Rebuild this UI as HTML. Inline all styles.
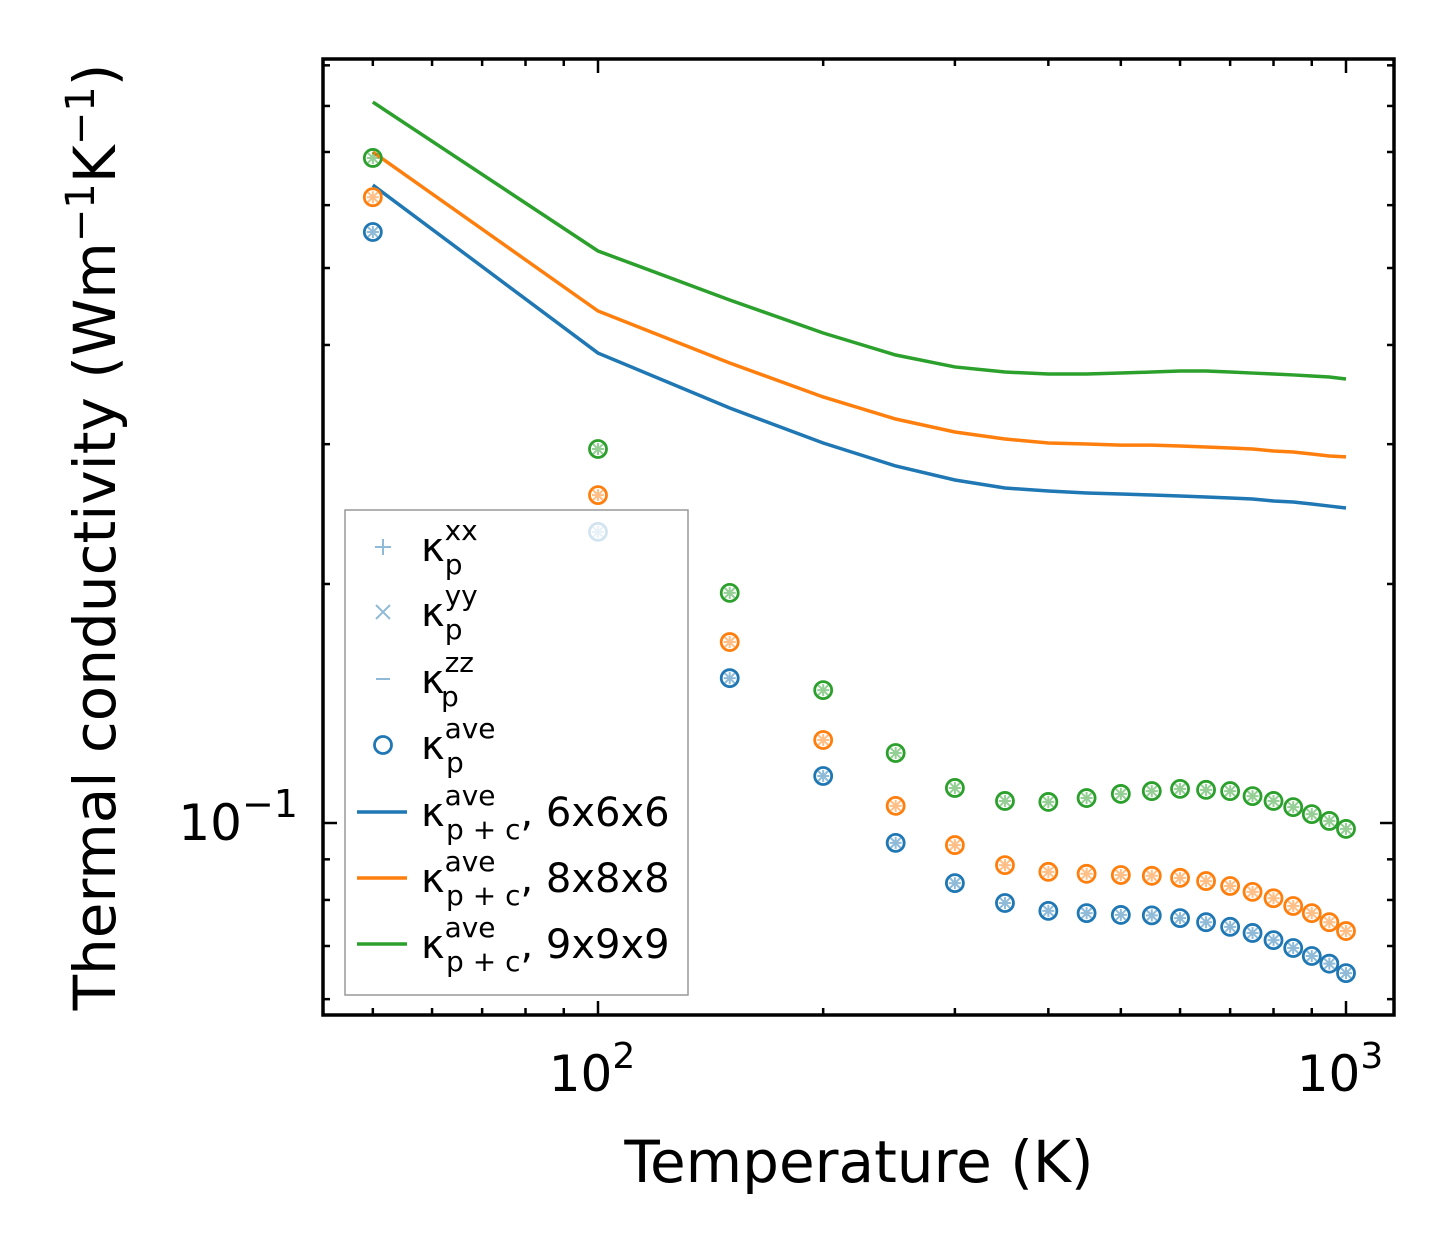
<!DOCTYPE html>
<html><head><meta charset="utf-8"><style>
html,body{margin:0;padding:0;background:#fff;}
svg text{font-family:"DejaVu Sans","Liberation Sans",sans-serif;}
</style></head><body>
<svg id="chart" width="1454" height="1254" viewBox="0 0 1454 1254" xmlns="http://www.w3.org/2000/svg">
<rect width="1454" height="1254" fill="#fff"/>
<g id="marks"></g>
<g id="axes"></g>
<text x="859" y="1182" font-size="58" text-anchor="middle">Temperature (K)</text>
<text transform="translate(115,537) rotate(-90)" font-size="58" text-anchor="middle">Thermal conductivity (Wm<tspan dy="-21" font-size="40">−1</tspan><tspan dy="21">K</tspan><tspan dy="-21" font-size="40">−1</tspan><tspan dy="21">)</tspan></text>
<g id="legend">
<rect x="345" y="510" width="343" height="485" fill="#fff" fill-opacity="0.8" stroke="#999" stroke-width="1.5"/>
</g>
</svg>
<script>
const temps=[50,100,150,200,250,300,350,400,450,500,550,600,650,700,750,800,850,900,950,1000];
const pBlue=[0.555,0.2326,0.1522,0.1146,0.0944,0.0840,0.0793,0.0775,0.0770,0.0766,0.0765,0.0759,0.0750,0.0740,0.0727,0.0712,0.0696,0.0680,0.0665,0.0647];
const pOrange=[0.614,0.2588,0.169,0.1272,0.1051,0.0938,0.0885,0.0868,0.0863,0.0860,0.0858,0.0853,0.0845,0.0833,0.0819,0.0804,0.0786,0.0770,0.0750,0.0731];
const pGreen=[0.688,0.2958,0.1949,0.1470,0.1225,0.1107,0.1066,0.1063,0.1075,0.1088,0.1097,0.1104,0.1101,0.1097,0.1081,0.1066,0.1047,0.1026,0.1006,0.0983];
const lBlue=[0.636,0.3907,0.3332,0.3010,0.2816,0.2704,0.2642,0.2619,0.2604,0.2596,0.2589,0.2581,0.2574,0.2566,0.2559,0.2544,0.2537,0.2522,0.2507,0.2493];
const lOrange=[0.700,0.4414,0.3796,0.3440,0.3227,0.3108,0.3045,0.3010,0.3001,0.2992,0.2992,0.2984,0.2975,0.2967,0.2958,0.2941,0.2933,0.2916,0.2899,0.2891];
const lGreen=[0.809,0.5253,0.4557,0.4141,0.3885,0.3753,0.3698,0.3677,0.3677,0.3687,0.3698,0.3709,0.3709,0.3698,0.3687,0.3677,0.3667,0.3656,0.3645,0.3624];
const xTickVals=[100,1000];
const xTickLabels=["10","10"];
const xTickExps=["2","3"];
const yTickVals=[0.1];

const L=323,R=1394,T=59,B=1015;
const X=v=>598+748*(Math.log10(v)-2);
const Y=v=>823-794*(Math.log10(v)+1);
const NS="http://www.w3.org/2000/svg";
function mk(tag,attrs,parent){const e=document.createElementNS(NS,tag);for(const k in attrs)e.setAttribute(k,attrs[k]);parent.appendChild(e);return e;}
const marks=document.getElementById('marks'),axes=document.getElementById('axes'),leg=document.getElementById('legend');
const C={b:'#1f77b4',o:'#ff7f0e',g:'#2ca02c'};
const series=[[lBlue,pBlue,C.b,'blue'],[lOrange,pOrange,C.o,'orange'],[lGreen,pGreen,C.g,'green']];
series.forEach(([ln,pts,col,nm])=>{
  const p=mk('polyline',{points:temps.map((t,i)=>X(t)+','+Y(ln[i])).join(' '),fill:'none',stroke:col,'stroke-width':3.5},marks);
  
  
});
series.forEach(([ln,pts,col,nm])=>{
  temps.forEach((t,i)=>{
    const g=mk('g',{},marks);
    
    
    const cx=X(t),cy=Y(pts[i]);
    mk('path',{d:`M${cx-6},${cy}h12M${cx},${cy-6}v12M${cx-5},${cy-5}l10,10M${cx-5},${cy+5}l10,-10`,stroke:col,'stroke-opacity':0.5,'stroke-width':2},g);
    mk('circle',{cx,cy,r:8.5,fill:'none',stroke:col,'stroke-width':2.8},g);
  });
});
const fr=mk('rect',{x:L,y:T,width:R-L,height:B-T,fill:'none',stroke:'#000','stroke-width':3.5},axes);


for(let d=1;d<=3;d++)for(let m=1;m<10;m++){
  const v=m*Math.pow(10,d);const x=X(v);if(x<L||x>R)continue;
  const len=m===1?14:7;
  mk('line',{x1:x,y1:B,x2:x,y2:B-len,stroke:'#000','stroke-width':2.5},axes);
  mk('line',{x1:x,y1:T,x2:x,y2:T+len,stroke:'#000','stroke-width':2.5},axes);
}
xTickVals.forEach((v,i)=>{
  const t=mk('text',{x:X(v)-6,y:1091,'font-size':50,'text-anchor':'middle'},axes);
  
  
  t.innerHTML=xTickLabels[i]+'<tspan dy="-23" font-size="36">'+xTickExps[i]+'</tspan>';
});
for(let d=-2;d<=0;d++)for(let m=1;m<10;m++){
  const v=m*Math.pow(10,d);const y=Y(v);if(y<T||y>B)continue;
  const len=m===1?14:7;
  mk('line',{x1:L,y1:y,x2:L+len,y2:y,stroke:'#000','stroke-width':2.5},axes);
  mk('line',{x1:R,y1:y,x2:R-len,y2:y,stroke:'#000','stroke-width':2.5},axes);
}
yTickVals.forEach(v=>{
  const t=mk('text',{x:298,y:Y(v)+17,'font-size':50,'text-anchor':'end'},axes);
  
  
  t.innerHTML='10<tspan dy="-23" font-size="38">−1</tspan>';
});
const ent=[
 ['legend-kxx','+',C.b,'xx','p',''],['legend-kyy','x',C.b,'yy','p',''],['legend-kzz','-',C.b,'zz','p',''],
 ['legend-kave','o',C.b,'ave','p',''],['legend-6x6x6','l',C.b,'ave','p + c',', 6x6x6'],
 ['legend-8x8x8','l',C.o,'ave','p + c',', 8x8x8'],['legend-9x9x9','l',C.g,'ave','p + c',', 9x9x9']];
const ly=[547,612,679,745,812,878,944];
ent.forEach((e,i)=>{
  const g=mk('g',{},leg);
  
  
  const y=ly[i],cx=383;
  if(e[1]==='+')mk('path',{d:`M${cx-8},${y}h16M${cx},${y-8}v16`,stroke:e[2],'stroke-opacity':0.5,'stroke-width':2},g);
  if(e[1]==='x')mk('path',{d:`M${cx-7},${y-7}l14,14M${cx-7},${y+7}l14,-14`,stroke:e[2],'stroke-opacity':0.5,'stroke-width':2},g);
  if(e[1]==='-')mk('path',{d:`M${cx-7},${y}h14`,stroke:e[2],'stroke-opacity':0.5,'stroke-width':2},g);
  if(e[1]==='o')mk('circle',{cx,cy:y,r:8.5,fill:'none',stroke:e[2],'stroke-width':2.8},g);
  if(e[1]==='l')mk('line',{x1:357,y1:y,x2:407,y2:y,stroke:e[2],'stroke-width':3.5},g);
  const t=mk('text',{x:421,y:y+14,'font-size':40},g);
  t.innerHTML='κ<tspan font-size="28" dy="-21">'+e[3]+'</tspan><tspan font-size="28" dx="'+(-(e[3].length*16.5))+'" dy="34">'+e[4]+'</tspan><tspan dy="-13">'+e[5]+'</tspan>';
});
</script>
</body></html>
